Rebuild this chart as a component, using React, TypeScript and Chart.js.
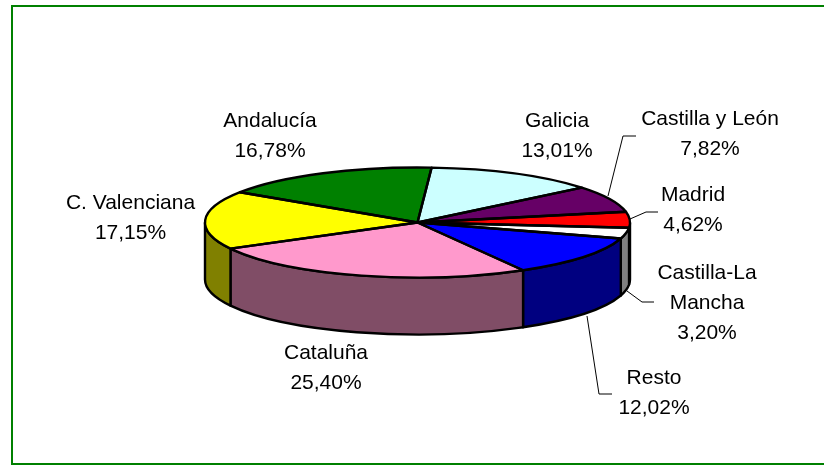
import React, { useEffect, useRef } from "react";
import { Chart, registerables } from "chart.js";

Chart.register(...registerables);

const categories = ["Galicia", "Castilla y León", "Madrid", "Castilla-La Mancha", "Resto", "Cataluña", "C. Valenciana", "Andalucía"];
const shares = [13.01, 7.82, 4.62, 3.2, 12.02, 25.4, 17.15, 16.78];
const shareLabels = ["13,01%", "7,82%", "4,62%", "3,20%", "12,02%", "25,40%", "17,15%", "16,78%"];
const topColors = ["#CCFFFF", "#660066", "#FF0000", "#FFFFFF", "#0000FF", "#FF99CC", "#FFFF00", "#008000"];
const sideColors = ["#668080", "#330033", "#800000", "#808080", "#000080", "#804D66", "#808000", "#004000"];

const CX = 417.5;
const CY = 222.5;
const RX = 212.5;
const RY = 55;
const DEPTH = 57;

const labelLayout = [
  { lines: ["Galicia", shareLabels[0]], x: 557, y: 121 },
  { lines: ["Castilla y León", shareLabels[1]], x: 710, y: 119 },
  { lines: ["Madrid", shareLabels[2]], x: 693, y: 195 },
  { lines: ["Castilla-La", "Mancha", shareLabels[3]], x: 707, y: 273 },
  { lines: ["Resto", shareLabels[4]], x: 654, y: 378 },
  { lines: ["Cataluña", shareLabels[5]], x: 326, y: 353 },
  { lines: ["C. Valenciana", shareLabels[6]], x: 130.5, y: 203 },
  { lines: ["Andalucía", shareLabels[7]], x: 270, y: 121 },
];

const leaders = [
  [[608, 196], [623, 136], [636, 136]],
  [[630, 219], [646, 212], [658, 212]],
  [[627, 291], [642, 302], [654, 302]],
  [[587, 316], [599, 394], [612, 394]],
];

const pie3d = {
  id: "pie3d",
  beforeDraw(chart: any) {
    const ctx = chart.ctx;
    ctx.save();
    ctx.strokeStyle = "#008000";
    ctx.lineWidth = 2;
    ctx.beginPath();
    ctx.moveTo(830, 6);
    ctx.lineTo(12, 6);
    ctx.lineTo(12, 464);
    ctx.lineTo(830, 464);
    ctx.stroke();
    ctx.restore();
  },
  beforeDatasetsDraw(chart: any) {
    const ctx = chart.ctx;
    const arcs = chart.getDatasetMeta(0).data;
    ctx.save();
    ctx.lineWidth = 2.4;
    ctx.strokeStyle = "#000";
    ctx.lineJoin = "round";
    const TAU = Math.PI * 2;
    arcs.forEach((arc: any, i: number) => {
      for (const k of [-TAU, 0, TAU]) {
        const a = Math.max(arc.startAngle + k, 0);
        const b = Math.min(arc.endAngle + k, Math.PI);
        if (b <= a) continue;
        ctx.beginPath();
        ctx.ellipse(CX, CY, RX, RY, 0, a, b);
        ctx.ellipse(CX, CY + DEPTH, RX, RY, 0, b, a, true);
        ctx.closePath();
        ctx.fillStyle = sideColors[i];
        ctx.fill();
        ctx.stroke();
      }
    });
    ctx.restore();
    ctx.save();
    ctx.translate(CX, CY);
    ctx.scale(1, RY / RX);
    ctx.translate(-CX, -CY);
  },
  afterDatasetsDraw(chart: any) {
    const ctx = chart.ctx;
    ctx.restore();
    ctx.save();
    ctx.lineWidth = 2.4;
    ctx.strokeStyle = "#000";
    ctx.lineJoin = "round";
    chart.getDatasetMeta(0).data.forEach((arc: any) => {
      ctx.beginPath();
      ctx.moveTo(CX, CY);
      ctx.ellipse(CX, CY, RX, RY, 0, arc.startAngle, arc.endAngle);
      ctx.closePath();
      ctx.stroke();
    });
    ctx.lineWidth = 1;
    ctx.strokeStyle = "#000";
    leaders.forEach((pts) => {
      ctx.beginPath();
      pts.forEach(([x, y], i) => (i ? ctx.lineTo(x, y) : ctx.moveTo(x, y)));
      ctx.stroke();
    });
    ctx.fillStyle = "#000";
    ctx.font = "21px 'Liberation Sans'";
    ctx.textAlign = "center";
    ctx.textBaseline = "middle";
    labelLayout.forEach((l) => {
      l.lines.forEach((t, i) => ctx.fillText(t, l.x, l.y + i * 30));
    });
    ctx.restore();
  },
};

export default function App() {
  const ref = useRef<HTMLCanvasElement>(null);
  useEffect(() => {
    document.body.style.margin = "0";
    const chart = new Chart(ref.current!, {
      type: "pie",
      data: {
        labels: categories,
        datasets: [{ data: shares, backgroundColor: topColors, borderWidth: 0, clip: false } as any],
      },
      options: {
        animation: false,
        responsive: false,
        rotation: 3.8,
        radius: RX,
        layout: { padding: { left: 11, right: 0, top: 0, bottom: 20 } },
        plugins: { legend: { display: false }, tooltip: { enabled: false } },
      } as any,
      plugins: [pie3d],
    });
    return () => chart.destroy();
  }, []);
  return <canvas ref={ref} width={824} height={465} style={{ display: "block" }} />;
}
